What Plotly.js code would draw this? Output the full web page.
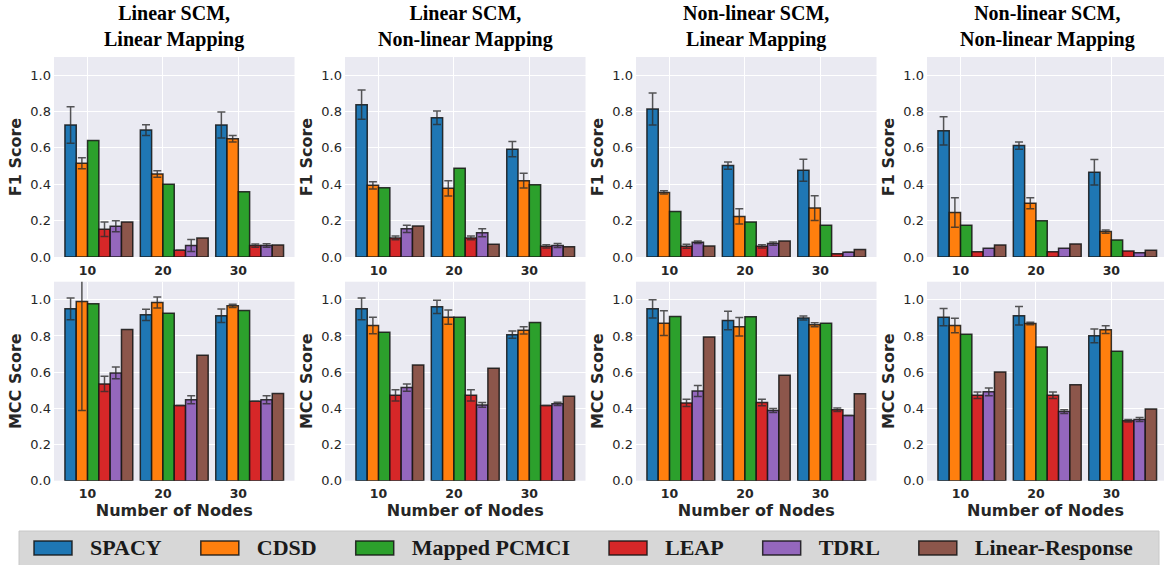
<!DOCTYPE html>
<html>
<head>
<meta charset="utf-8">
<script src="https://cdn.plot.ly/plotly-3.0.1.min.js"></script>
<style>
  html, body { margin: 0; padding: 0; background: #ffffff; }
  #chart { width: 1164px; height: 565px; }
</style>
</head>
<body>
<div id="chart"></div>
<script>
// ---------------- data ----------------
const nodes = ['10', '20', '30'];
const methods = ['SPACY', 'CDSD', 'Mapped PCMCI', 'LEAP', 'TDRL', 'Linear-Response'];
const panelTitles = ['Linear SCM,<br>Linear Mapping', 'Linear SCM,<br>Non-linear Mapping',
                     'Non-linear SCM,<br>Linear Mapping', 'Non-linear SCM,<br>Non-linear Mapping'];
const rowTitles = ['F1 Score', 'MCC Score'];
const xTitle = 'Number of Nodes';

// rows: methods (SPACY, CDSD, Mapped PCMCI, LEAP, TDRL, Linear-Response); cols: 10, 20, 30 nodes
const f1_LL = [[0.726,0.698,0.726],[0.516,0.457,0.650],[0.641,0.400,0.359],[0.153,0.037,0.063],[0.169,0.063,0.063],[0.192,0.105,0.066]];
const f1_LL_err = [[0.100,0.030,0.072],[0.030,0.018,0.018],[0,0,0],[0.040,0,0.009],[0.030,0.033,0.010],[0,0,0]];
const f1_LN = [[0.838,0.766,0.593],[0.394,0.378,0.420],[0.381,0.488,0.398],[0.105,0.105,0.059],[0.155,0.133,0.063],[0.171,0.070,0.057]];
const f1_LN_err = [[0.080,0.037,0.042],[0.020,0.042,0.040],[0,0,0],[0.010,0.010,0.009],[0.020,0.022,0.011],[0,0,0]];
const f1_NL = [[0.814,0.503,0.477],[0.355,0.223,0.269],[0.250,0.192,0.175],[0.059,0.059,0.018],[0.081,0.074,0.026],[0.061,0.088,0.041]];
const f1_NL_err = [[0.088,0.020,0.061],[0.009,0.042,0.068],[0,0,0],[0.011,0.009,0],[0.007,0.009,0],[0,0,0]];
const f1_NN = [[0.694,0.613,0.466],[0.245,0.296,0.140],[0.175,0.199,0.094],[0.029,0.029,0.033],[0.048,0.048,0.024],[0.066,0.072,0.037]];
const f1_NN_err = [[0.078,0.020,0.070],[0.081,0.030,0.009],[0,0,0],[0,0,0],[0,0,0],[0,0,0]];

const mcc_LL = [[0.950,0.917,0.912],[0.991,0.985,0.967],[0.978,0.926,0.941],[0.535,0.415,0.439],[0.596,0.447,0.447],[0.836,0.693,0.482]];
const mcc_LL_err = [[0.060,0.031,0.037],[0.603,0.031,0.009],[0,0,0],[0.042,0,0],[0.033,0.022,0.022],[0,0,0]];
const mcc_LN = [[0.950,0.961,0.807],[0.858,0.904,0.831],[0.820,0.903,0.875],[0.472,0.472,0.415],[0.515,0.419,0.425],[0.640,0.621,0.467]];
const mcc_LN_err = [[0.060,0.037,0.020],[0.046,0.039,0.020],[0,0,0],[0.031,0.031,0],[0.020,0.013,0.009],[0,0,0]];
const mcc_NL = [[0.950,0.886,0.899],[0.871,0.851,0.862],[0.908,0.906,0.871],[0.430,0.432,0.392],[0.496,0.388,0.360],[0.794,0.583,0.480]];
const mcc_NL_err = [[0.050,0.051,0.011],[0.068,0.051,0.011],[0,0,0],[0.020,0.018,0.010],[0.030,0.011,0],[0,0,0]];
const mcc_NN = [[0.904,0.912,0.801],[0.858,0.869,0.835],[0.809,0.739,0.715],[0.472,0.472,0.331],[0.491,0.382,0.338],[0.601,0.531,0.397]];
const mcc_NN_err = [[0.048,0.051,0.038],[0.040,0.007,0.022],[0,0,0],[0.018,0.018,0.007],[0.022,0.010,0.011],[0,0,0]];

// ---------------- styling ----------------
const colors = ['#1f77b4', '#ff7f0e', '#2ca02c', '#d62728', '#9467bd', '#8c564b'];
const panelsVal = [f1_LL, f1_LN, f1_NL, f1_NN, mcc_LL, mcc_LN, mcc_NL, mcc_NN];
const panelsErr = [f1_LL_err, f1_LN_err, f1_NL_err, f1_NN_err, mcc_LL_err, mcc_LN_err, mcc_NL_err, mcc_NN_err];

const W = 1164, H = 565;
const colLeft = [54, 345, 636, 927];
const plotW = 240.5;
const rowsPx = [[57, 257], [281.7, 480.7]];
const xr0 = -0.445, xspan = 3.19;
const barW = 0.15;
const tickColor = '#262626';
const tickFamily = 'DejaVu Sans';

const traces = [];
panelsVal.forEach((vals, p) => {
  const n = p + 1;
  const xa = 'x' + (n === 1 ? '' : n);
  const ya = 'y' + (n === 1 ? '' : n);
  vals.forEach((series, m) => {
    const errs = panelsErr[p][m];
    const hasErr = errs.some(v => v > 0);
    traces.push({
      type: 'bar',
      name: methods[m],
      legendgroup: methods[m],
      showlegend: p === 0,
      x: nodes.map((_, gi) => gi + (m - 1.5) * barW),
      y: series,
      width: barW,
      xaxis: xa, yaxis: ya,
      marker: { color: colors[m], line: { color: 'rgba(20,20,20,0.85)', width: 1.5 } },
      error_y: {
        type: 'data', visible: hasErr,
        array: errs.map(v => (v > 0 ? v : null)),
        color: 'rgba(45,45,45,0.8)', thickness: 1.5, width: 4
      },
      hoverinfo: 'skip'
    });
  });
});

const layout = {
  width: W, height: H,
  margin: { l: 0, r: 0, t: 0, b: 0, autoexpand: false },
  paper_bgcolor: '#ffffff',
  plot_bgcolor: '#EAEAF2',
  barmode: 'overlay',
  showlegend: true,
  legend: {
    orientation: 'h',
    x: 0, xanchor: 'left',
    y: 1 - 526 / H, yanchor: 'top',
    bgcolor: 'rgba(0,0,0,0)', borderwidth: 0,
    itemwidth: 80,
    font: { family: 'Liberation Serif', size: 22, weight: 'bold', color: '#1a1a1a' },
    itemclick: false, itemdoubleclick: false
  },
  shapes: [{
    type: 'rect', xref: 'paper', yref: 'paper', layer: 'below',
    x0: 19 / W, x1: 1159 / W, y0: 1 - 568 / H, y1: 1 - 531 / H,
    fillcolor: '#d7d7d7', line: { color: '#c8c8c8', width: 1 }
  }],
  annotations: []
};

for (let p = 0; p < 8; p++) {
  const n = p + 1;
  const row = Math.floor(p / 4), col = p % 4;
  const L = colLeft[col];
  const R = Math.min(L + plotW, W);
  const xKey = 'xaxis' + (n === 1 ? '' : n);
  const yKey = 'yaxis' + (n === 1 ? '' : n);
  const xa = 'x' + (n === 1 ? '' : n);
  const ya = 'y' + (n === 1 ? '' : n);
  layout[xKey] = {
    domain: [L / W, R / W],
    range: [xr0, xr0 + (R - L) / plotW * xspan],
    anchor: ya,
    tickmode: 'array', tickvals: [0, 1, 2], ticktext: nodes,
    showgrid: true, gridcolor: '#ffffff', gridwidth: 1,
    zeroline: false, showline: false, ticks: '',
    ticklabelstandoff: 4,
    tickfont: { family: tickFamily, size: 12.5, weight: 'bold', color: tickColor },
    fixedrange: true
  };
  if (row === 1) {
    layout[xKey].title = { text: xTitle, standoff: 2,
      font: { family: tickFamily, size: 16, weight: 'bold', color: tickColor } };
  }
  layout[yKey] = {
    domain: [1 - rowsPx[row][1] / H, 1 - rowsPx[row][0] / H],
    range: [0, 1.1],
    anchor: xa,
    tickmode: 'array', tickvals: [0, 0.2, 0.4, 0.6, 0.8, 1.0],
    tickformat: '.1f',
    showgrid: true, gridcolor: '#ffffff', gridwidth: 1,
    zeroline: false, showline: false, ticks: '',
    ticklabelstandoff: 2,
    tickfont: { family: tickFamily, size: 13, color: tickColor },
    title: { text: rowTitles[row], standoff: 4,
      font: { family: tickFamily, size: 16, weight: 'bold', color: tickColor } },
    fixedrange: true
  };
  if (row === 0) {
    layout.annotations.push({
      xref: 'paper', yref: 'paper',
      x: (L + plotW / 2) / W, y: 1, xanchor: 'center', yanchor: 'top', yshift: 0,
      text: '<b>' + panelTitles[col] + '</b>', showarrow: false,
      font: { family: 'Liberation Serif', size: 20, color: '#000000' }
    });
  }
}

function fixLegend() {
  document.querySelectorAll('.legend .traces').forEach(g => {
    const text = g.querySelector('text.legendtext');
    const path = g.querySelector('.legendpoints path');
    if (!text || !path) return;
    const tb = text.getBBox();
    const gInv = g.getScreenCTM().inverse();
    const tm = gInv.multiply(text.getScreenCTM());
    const pm = gInv.multiply(path.getScreenCTM());
    const tx = tb.x + tm.e;
    const cy = tb.y + tb.height / 2 + tm.f;
    const right = tx - 18 - pm.e, left = right - 38;
    const top = cy - 7 - pm.f, bot = cy + 7 - pm.f;
    path.setAttribute('d', `M${left},${top}H${right}V${bot}H${left}Z`);
  });
}

Plotly.newPlot('chart', traces, layout, { staticPlot: true, displayModeBar: false })
  .then(() => fixLegend());
</script>
</body>
</html>
